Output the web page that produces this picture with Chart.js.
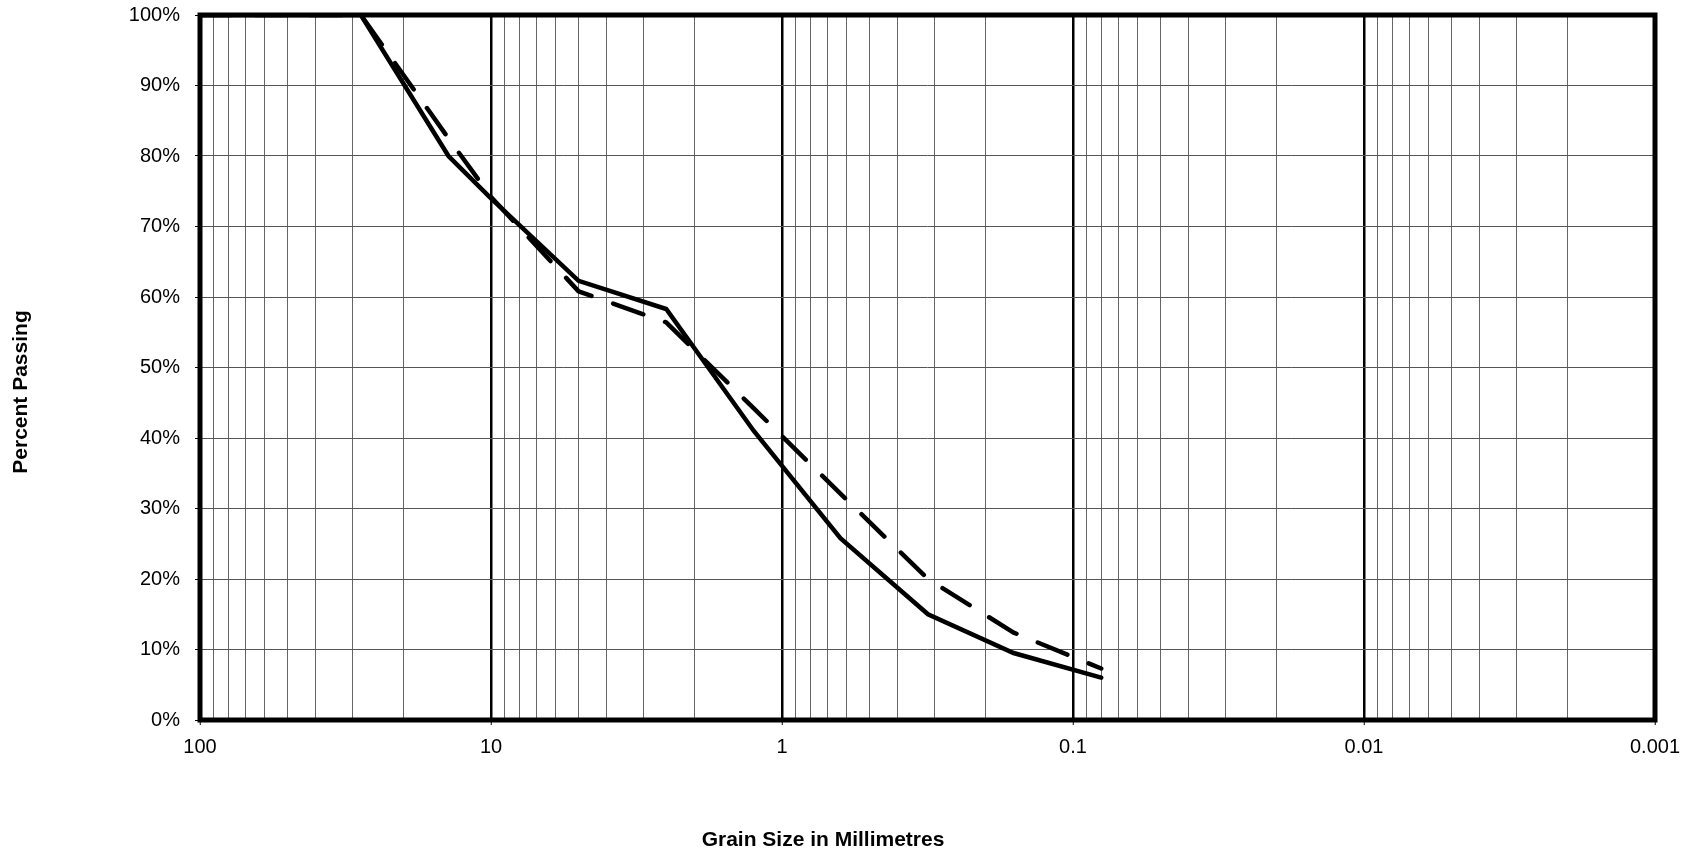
<!DOCTYPE html>
<html>
<head>
<meta charset="utf-8">
<title>Grading Curve</title>
<script src="https://cdn.jsdelivr.net/npm/chart.js@4.4.1/dist/chart.umd.min.js"></script>
<style>
    html, body { margin: 0; padding: 0; background: #fff; }
    #wrap { width: 1694px; height: 851px; position: relative; }
</style>
</head>
<body>
<div id="wrap"><canvas id="gradingChart"></canvas></div>
<script>
// Sieve sizes (mm) and percent passing for the two tests
var sieveSizes = [100, 28, 14, 10, 5, 2.5, 1.25, 0.63, 0.315, 0.16, 0.08];
var passingSolid = [100, 100, 80, 74, 62.3, 58.3, 41, 25.8, 15, 9.5, 6];
var passingDashed = [100, 100, 82.5, 74.2, 60.8, 56.4, 44.2, 32.1, 20, 12.4, 7.3];

// Axis ticks
var decadeTicks = [100, 10, 1, 0.1, 0.01, 0.001];
var minorSteps = [9, 8, 7, 6, 5, 4, 3, 2];
var percentStep = 10;

var xTitle = 'Grain Size in Millimetres';
var yTitle = 'Percent Passing';

function GradingChart() { }

GradingChart.prototype = {
    chart: null,
    gridValues: [],

    init: function () {
        this.init_ticks();
        this.draw();
    },

    init_ticks: function () {
        var me = this;
        me.gridValues = [];
        // decade line, then 9x..2x of the next lower decade
        for (var i = 0; i < decadeTicks.length; i++) {
            var d = decadeTicks[i];
            me.gridValues.push(d);
            if (i < decadeTicks.length - 1) {
                minorSteps.forEach(function (m) { me.gridValues.push(m * d / 10); });
            }
        }
    },

    isDecade: function (v) {
        var l = Math.log10(v);
        return Math.abs(l - Math.round(l)) < 1e-9;
    },

    draw: function () {
        var me = this;
        var font = { family: '"Liberation Sans", Arial, sans-serif', size: 20 };

        var toPoints = function (arr) {
            return sieveSizes.map(function (s, i) { return { x: s, y: arr[i] }; });
        };

        // thick frame round the plot area
        var framePlugin = {
            id: 'frame',
            beforeDatasetsDraw: function (chart) {
                var a = chart.chartArea, c = chart.ctx;
                c.save();
                c.lineWidth = 5;
                c.strokeStyle = '#000';
                c.strokeRect(a.left, a.top, a.right - a.left, a.bottom - a.top);
                c.restore();
            }
        };

        // axis titles sit off-centre like the original
        var titlePlugin = {
            id: 'axisTitles',
            afterDraw: function (chart) {
                var c = chart.ctx;
                c.save();
                c.fillStyle = '#000';
                c.font = 'bold 21px "Liberation Sans", Arial, sans-serif';
                c.textAlign = 'center';
                c.textBaseline = 'alphabetic';
                c.fillText(xTitle, 823, 846);
                c.translate(27, 392);
                c.rotate(-Math.PI / 2);
                c.fillText(yTitle, 0, 0);
                c.restore();
            }
        };

        me.chart = new Chart(document.getElementById('gradingChart'), {
            type: 'line',
            data: {
                datasets: [{
                    label: 'Test 1',
                    data: toPoints(passingSolid),
                    borderColor: '#000',
                    borderWidth: 4.5,
                    borderCapStyle: 'round',
                    borderJoinStyle: 'miter',
                    pointRadius: 0,
                    tension: 0,
                    fill: false
                }, {
                    label: 'Test 2',
                    data: toPoints(passingDashed),
                    borderColor: '#000',
                    borderWidth: 4.5,
                    borderDash: [32, 23],
                    borderCapStyle: 'round',
                    borderJoinStyle: 'round',
                    pointRadius: 0,
                    tension: 0,
                    fill: false
                }]
            },
            options: {
                responsive: true,
                maintainAspectRatio: false,
                animation: false,
                devicePixelRatio: 1,
                layout: { padding: { top: 15, right: 39, bottom: 0, left: 0 } },
                plugins: {
                    legend: { display: false },
                    tooltip: { enabled: false }
                },
                scales: {
                    x: {
                        type: 'logarithmic',
                        min: 0.001,
                        max: 100,
                        reverse: true,
                        afterBuildTicks: function (scale) {
                            scale.ticks = me.gridValues.map(function (v) { return { value: v }; });
                        },
                        afterFit: function (scale) {
                            scale.height = 131;
                            scale.paddingLeft = 0;
                            scale.paddingRight = 0;
                        },
                        ticks: {
                            autoSkip: false,
                            maxRotation: 0,
                            padding: 10,
                            color: '#000',
                            font: font,
                            callback: function (v) { return me.isDecade(v) ? String(v) : ''; }
                        },
                        grid: {
                            color: function (ctx) { return me.isDecade(ctx.tick.value) ? '#000' : '#666'; },
                            lineWidth: function (ctx) { return me.isDecade(ctx.tick.value) ? 2.5 : 1; },
                            tickLength: 5,
                            tickColor: '#000',
                            tickWidth: function (ctx) { return me.isDecade(ctx.tick.value) ? 1 : 0; }
                        },
                        border: { display: false }
                    },
                    y: {
                        min: 0,
                        max: 100,
                        afterFit: function (scale) {
                            scale.width = 200;
                            scale.paddingTop = 0;
                            scale.paddingBottom = 0;
                        },
                        ticks: {
                            stepSize: percentStep,
                            padding: 15,
                            color: '#000',
                            font: font,
                            callback: function (v) { return v + '%'; }
                        },
                        grid: {
                            color: '#555',
                            lineWidth: 1,
                            tickLength: 5,
                            tickColor: '#000'
                        },
                        border: { display: false }
                    }
                }
            },
            plugins: [framePlugin, titlePlugin]
        });
    }
};

new GradingChart().init();
</script>
</body>
</html>
